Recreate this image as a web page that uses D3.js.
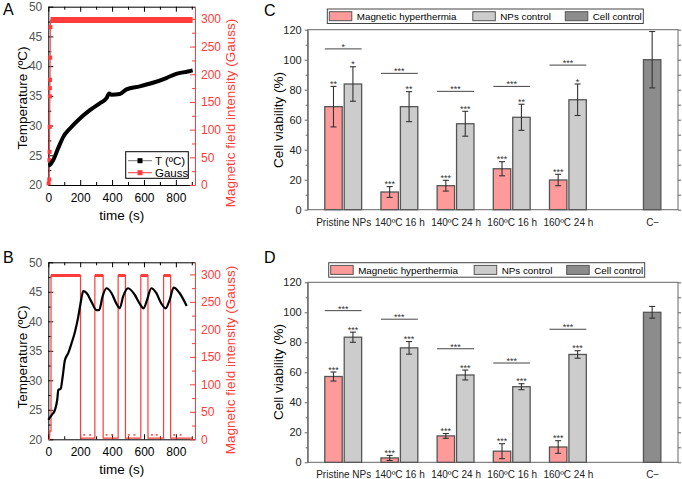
<!DOCTYPE html>
<html>
<head>
<meta charset="utf-8">
<script src="https://cdn.jsdelivr.net/npm/d3@7"></script>
<style>
body { margin: 0; background: #fff; }
text { font-family: "Liberation Sans", Arial, sans-serif; }
</style>
</head>
<body>
<div id="chart"></div>
<script>
// ---- panel A: field always on ----
var timeA = [0, 10, 31, 62, 94, 136, 198, 261, 323, 365, 382, 396, 448, 490, 573, 656, 740, 802, 875, 905];
var tempA = [23.3, 23.4, 24.2, 26.2, 28.1, 29.5, 31.2, 32.6, 33.75, 34.6, 35.4, 35.2, 35.3, 36.1, 36.6, 37.2, 38.0, 38.7, 39.1, 39.3];
var gaussRampTimeA = [2, 6, 7, 8, 9, 10, 10, 11, 12, 13];
var gaussRampA = [3, 10, 45, 60, 105, 160, 175, 190, 230, 285];
var gaussOnTimeA = [14, 905];
var gaussOnA = [298, 298];

// ---- panel B: field switched on/off ----
var timeB = [0, 21, 42, 56, 63, 77, 90, 104, 125, 146, 167, 188, 202, 219, 240, 271, 302, 319, 340, 365, 396, 427, 448, 469, 500, 542, 573, 598, 619, 646, 677, 709, 736, 761, 786, 823, 868];
var tempB = [23.3, 24.1, 25.0, 26.7, 28.4, 28.5, 30.6, 33.4, 34.6, 36.3, 38.2, 40.8, 43.0, 45.1, 44.8, 43.3, 41.9, 41.9, 44.2, 45.6, 44.8, 43.0, 42.2, 44.2, 45.6, 44.5, 43.0, 42.2, 43.6, 45.6, 44.8, 43.0, 42.2, 43.6, 45.7, 44.8, 42.6];
var fieldOnB = [17, 292, 438, 580, 723];
var fieldOffB = [202, 344, 484, 625, 767];
var blipTimeB = [225, 262, 365, 400, 505, 540, 650, 680, 790, 830];
var onLevelB = 298, offLevelB = 2, blipLevelB = 8;

// ---- panels C and D: cell viability ----
var categories = ["Pristine NPs", "140ºC 16 h", "140ºC 24 h", "160ºC 16 h", "160ºC 24 h"];
var seriesNames = ["Magnetic hyperthermia", "NPs control", "Cell control"];

var mhC = [68.7, 11.8, 16.0, 27.3, 19.8];
var mhErrC = [13.5, 3.6, 3.6, 4.7, 3.8];
var npC = [83.8, 68.7, 57.3, 61.6, 73.3];
var npErrC = [11.5, 10.0, 8.3, 8.7, 10.5];
var ctrlC = 100, ctrlErrC = 18.8;
var mhSigC = ["**", "***", "***", "***", "***"];
var npSigC = ["*", "**", "***", "**", "*"];
var bracketC = [107.2, 90.9, 78.9, 82.2, 96.4];
var bracketSigC = ["*", "***", "***", "***", "***"];

var mhD = [57.2, 2.9, 17.6, 7.4, 10.2];
var mhErrD = [3.0, 1.7, 1.6, 5.0, 4.2];
var npD = [83.4, 76.3, 58.2, 50.4, 71.9];
var npErrD = [3.4, 4.2, 3.3, 2.0, 2.5];
var ctrlD = 100, ctrlErrD = 3.9;
var mhSigD = ["***", "***", "***", "***", "***"];
var npSigD = ["***", "***", "***", "***", "***"];
var bracketD = [101.1, 95.4, 75.7, 66.2, 88.7];
var bracketSigD = ["***", "***", "***", "***", "***"];

var RED = "#ff3b3b";
var FONT = "Liberation Sans, Arial, sans-serif";

var svg = d3.select("#chart").append("svg")
    .attr("width", 682)
    .attr("height", 479);

function styleAxis(sel, color, size) {
    sel.attr("font-family", FONT).attr("font-size", size);
    sel.selectAll("path, line").attr("stroke", color);
    sel.selectAll("text").attr("fill", color);
}

function drawLinePanel(cfg) {
    var g = svg.append("g");
    var left = 48.3, right = 195;
    var x = d3.scaleLinear().domain([0, 920]).range([left, right]);
    var y = d3.scaleLinear().domain([20, 50]).range([cfg.bottom, cfg.top]);
    var y2 = d3.scaleLinear().domain([0, 322]).range([cfg.bottom, cfg.top]);

    // bottom / top
    g.append("g").attr("transform", "translate(0," + cfg.bottom + ")")
        .call(d3.axisBottom(x).tickValues([0, 200, 400, 600, 800]).tickSize(-5).tickSizeOuter(0).tickPadding(8))
        .call(styleAxis, "#000", 12);
    g.append("g").attr("transform", "translate(0," + cfg.bottom + ")")
        .call(d3.axisBottom(x).tickValues([100, 300, 500, 700, 900]).tickSize(-3).tickFormat(""))
        .call(styleAxis, "#000", 12).select(".domain").remove();
    g.append("g").attr("transform", "translate(0," + cfg.top + ")")
        .call(d3.axisTop(x).tickValues([0, 200, 400, 600, 800]).tickSize(-5).tickSizeOuter(0).tickFormat(""))
        .call(styleAxis, "#000", 12);
    g.append("g").attr("transform", "translate(0," + cfg.top + ")")
        .call(d3.axisTop(x).tickValues([100, 300, 500, 700, 900]).tickSize(-3).tickFormat(""))
        .call(styleAxis, "#000", 12).select(".domain").remove();

    // left temperature axis
    g.append("g").attr("transform", "translate(" + left + ",0)")
        .call(d3.axisLeft(y).tickValues(d3.range(20, 51, 5)).tickSize(-5).tickSizeOuter(0).tickPadding(6))
        .call(styleAxis, "#000", 12)
        .selectAll("text").attr("fill", "#555");
    g.append("g").attr("transform", "translate(" + left + ",0)")
        .call(d3.axisLeft(y).tickValues(d3.range(22.5, 50, 5)).tickSize(-3).tickFormat(""))
        .call(styleAxis, "#000", 12).select(".domain").remove();

    // right gauss axis
    g.append("g").attr("transform", "translate(" + right + ",0)")
        .call(d3.axisRight(y2).tickValues(d3.range(0, 301, 50)).tickSize(-5).tickSizeOuter(0).tickPadding(6))
        .call(styleAxis, RED, 12);
    g.append("g").attr("transform", "translate(" + right + ",0)")
        .call(d3.axisRight(y2).tickValues(d3.range(25, 320, 50)).tickSize(-3).tickFormat(""))
        .call(styleAxis, RED, 12).select(".domain").remove();

    // titles
    g.append("text")
        .attr("transform", "translate(" + 27 + "," + cfg.ytitle + ") rotate(-90)")
        .attr("text-anchor", "middle").attr("font-size", 13.5).attr("fill", "#000")
        .text("Temperature (ºC)");
    g.append("text")
        .attr("transform", "translate(" + 234.5 + "," + cfg.y2title + ") rotate(-90)")
        .attr("text-anchor", "middle").attr("font-size", 13.5).attr("fill", RED)
        .text("Magnetic field intensity (Gauss)");
    g.append("text")
        .attr("x", (left + right) / 2).attr("y", cfg.bottom + 35)
        .attr("text-anchor", "middle").attr("font-size", 13.5)
        .text("time (s)");
    g.append("text")
        .attr("x", 3).attr("y", cfg.top + cfg.letterDy)
        .attr("font-size", 16).text(cfg.letter);

    return { g: g, x: x, y: y, y2: y2 };
}

// ---------- panel A ----------
var pA = drawLinePanel({ top: 6.7, bottom: 185, ytitle: 98, y2title: 113, letter: "A", letterDy: 8.3 });

pA.g.append("path")
    .datum(d3.zip(gaussOnTimeA, gaussOnA))
    .attr("fill", "none").attr("stroke", RED).attr("stroke-width", 6)
    .attr("d", d3.line().x(function(d) { return pA.x(d[0]); }).y(function(d) { return pA.y2(d[1]); }));
pA.g.append("path")
    .datum(d3.zip([0].concat(gaussRampTimeA, [14]), [0].concat(gaussRampA, [298])))
    .attr("fill", "none").attr("stroke", RED).attr("stroke-width", 1)
    .attr("d", d3.line().x(function(d) { return pA.x(d[0]); }).y(function(d) { return pA.y2(d[1]); }));
pA.g.selectAll("rect.gauss")
    .data(d3.zip(gaussRampTimeA, gaussRampA))
    .enter().append("rect")
    .attr("x", function(d) { return pA.x(d[0]) - 2; })
    .attr("y", function(d) { return pA.y2(d[1]) - 2; })
    .attr("width", 4).attr("height", 4).attr("fill", RED);

pA.g.append("path")
    .datum(d3.zip(timeA, tempA))
    .attr("fill", "none").attr("stroke", "#000").attr("stroke-width", 4)
    .attr("d", d3.line().curve(d3.curveMonotoneX)
        .x(function(d) { return pA.x(d[0]); }).y(function(d) { return pA.y(d[1]); }));

// legend A
var lgA = pA.g.append("g");
lgA.append("rect").attr("x", 125.7).attr("y", 151.7).attr("width", 62.6).attr("height", 26.6)
    .attr("fill", "#fff").attr("stroke", "#000").attr("stroke-width", 1);
[["T (ºC)", "#000", "#777", 160.7], ["Gauss", RED, RED, 172.7]].forEach(function(e) {
    lgA.append("line").attr("x1", 128).attr("x2", 152).attr("y1", e[3]).attr("y2", e[3])
        .attr("stroke", e[2]).attr("stroke-width", 1);
    lgA.append("rect").attr("x", 137.5).attr("y", e[3] - 2.5).attr("width", 5).attr("height", 5).attr("fill", e[1]);
    lgA.append("text").attr("x", 155).attr("y", e[3] + 4).attr("font-size", 11.5).text(e[0]);
});

// ---------- panel B ----------
var pB = drawLinePanel({ top: 262.3, bottom: 439.3, ytitle: 357, y2title: 360, letter: "B", letterDy: 1 });

var sq = [[0, 0], [8, 0], [10, 15], [fieldOnB[0], 15]];
fieldOnB.forEach(function(on, i) {
    if (i > 0) sq.push([on, offLevelB]);
    sq.push([on, onLevelB]);
    sq.push([fieldOffB[i], onLevelB]);
    sq.push([fieldOffB[i], offLevelB]);
});
sq.push([905, offLevelB]);
pB.g.append("path")
    .datum(sq)
    .attr("fill", "none").attr("stroke", RED).attr("stroke-width", 1.2)
    .attr("d", d3.line().x(function(d) { return pB.x(d[0]); }).y(function(d) { return pB.y2(d[1]); }));
pB.g.selectAll("line.on")
    .data(fieldOnB)
    .enter().append("line")
    .attr("x1", function(d) { return pB.x(d); })
    .attr("x2", function(d, i) { return pB.x(fieldOffB[i]); })
    .attr("y1", pB.y2(onLevelB)).attr("y2", pB.y2(onLevelB))
    .attr("stroke", RED).attr("stroke-width", 3);
pB.g.selectAll("line.blip")
    .data(blipTimeB)
    .enter().append("line")
    .attr("x1", function(d) { return pB.x(d - 6); })
    .attr("x2", function(d) { return pB.x(d + 6); })
    .attr("y1", pB.y2(blipLevelB)).attr("y2", pB.y2(blipLevelB))
    .attr("stroke", RED).attr("stroke-width", 1.5);

pB.g.append("path")
    .datum(d3.zip(timeB, tempB))
    .attr("fill", "none").attr("stroke", "#000").attr("stroke-width", 2.2)
    .attr("d", d3.line().curve(d3.curveMonotoneX)
        .x(function(d) { return pB.x(d[0]); }).y(function(d) { return pB.y(d[1]); }));

// ---------- bar panels ----------
var barColors = ["#ff9a9a", "#cccccc", "#8c8c8c"];

function drawBarPanel(cfg) {
    var g = svg.append("g");
    var left = 307.7, right = 678;
    var x = d3.scaleLinear().domain([-0.632, 5.96]).range([left, right]);
    var y = d3.scaleLinear().domain([0, 120]).range([cfg.bottom, cfg.top]);
    var step = x(1) - x(0), bw = step * 0.31, gap = step * 0.036;

    // frame + ticks
    g.append("rect").attr("x", left).attr("y", cfg.top).attr("width", right - left)
        .attr("height", cfg.bottom - cfg.top).attr("fill", "none").attr("stroke", "#666").attr("stroke-width", 1);
    g.append("g").attr("transform", "translate(" + left + ",0)")
        .call(d3.axisLeft(y).tickValues(d3.range(0, 121, 20)).tickSize(3).tickSizeOuter(0).tickPadding(3))
        .call(styleAxis, "#666", 11)
        .selectAll("text").attr("fill", "#222");
    g.append("g").attr("transform", "translate(" + left + ",0)")
        .call(d3.axisLeft(y).tickValues(d3.range(10, 120, 20)).tickSize(2).tickFormat(""))
        .call(styleAxis, "#666", 11).select(".domain").remove();
    g.append("g").attr("transform", "translate(" + right + ",0)")
        .call(d3.axisRight(y).tickValues(d3.range(0, 121, 10)).tickSize(3).tickSizeOuter(0).tickFormat(""))
        .call(styleAxis, "#666", 11).select(".domain").remove();

    g.append("g").attr("transform", "translate(0," + cfg.bottom + ")")
        .call(d3.axisBottom(x).tickValues([0, 1, 2, 3, 4, 5.5]).tickSize(0).tickPadding(9)
            .tickFormat(function(d, i) { return i < 5 ? categories[i] : "C\u2212"; }))
        .call(styleAxis, "#222", 10)
        .select(".domain").remove();

    g.append("text")
        .attr("transform", "translate(" + 282.5 + "," + cfg.ytitle + ") rotate(-90)")
        .attr("text-anchor", "middle").attr("font-size", 13.5)
        .text("Cell viability (%)");
    g.append("text").attr("x", 264).attr("y", cfg.letterY).attr("font-size", 16).text(cfg.letter);

    // bars
    var bars = [];
    categories.forEach(function(c, i) {
        bars.push({ x0: x(i) - gap / 2 - bw, v: cfg.mh[i], e: cfg.mhErr[i], s: cfg.mhSig[i], c: 0 });
        bars.push({ x0: x(i) + gap / 2, v: cfg.np[i], e: cfg.npErr[i], s: cfg.npSig[i], c: 1 });
    });
    bars.push({ x0: x(5.5) - bw / 2, v: cfg.ctrl, e: cfg.ctrlErr, s: "", c: 2 });

    g.selectAll("rect.bar").data(bars).enter().append("rect")
        .attr("x", function(d) { return d.x0; })
        .attr("y", function(d) { return y(d.v); })
        .attr("width", bw)
        .attr("height", function(d) { return y(0) - y(d.v); })
        .attr("fill", function(d) { return barColors[d.c]; })
        .attr("stroke", "#555").attr("stroke-width", 1.3);

    var eb = g.selectAll("g.err").data(bars).enter().append("g").attr("stroke", "#333").attr("stroke-width", 1.1);
    eb.append("line")
        .attr("x1", function(d) { return d.x0 + bw / 2; }).attr("x2", function(d) { return d.x0 + bw / 2; })
        .attr("y1", function(d) { return y(d.v - d.e); }).attr("y2", function(d) { return y(d.v + d.e); });
    eb.append("line")
        .attr("x1", function(d) { return d.x0 + bw / 2 - 3; }).attr("x2", function(d) { return d.x0 + bw / 2 + 3; })
        .attr("y1", function(d) { return y(d.v + d.e); }).attr("y2", function(d) { return y(d.v + d.e); });
    eb.append("line")
        .attr("x1", function(d) { return d.x0 + bw / 2 - 3; }).attr("x2", function(d) { return d.x0 + bw / 2 + 3; })
        .attr("y1", function(d) { return y(d.v - d.e); }).attr("y2", function(d) { return y(d.v - d.e); });

    g.selectAll("text.sig").data(bars).enter().append("text")
        .attr("x", function(d) { return d.x0 + bw / 2; })
        .attr("y", function(d) { return y(d.v + d.e) + 0.5; })
        .attr("text-anchor", "middle").attr("font-size", 9).attr("fill", "#333")
        .text(function(d) { return d.s; });

    // brackets between treatment and NP control
    var br = g.selectAll("g.br").data(categories).enter().append("g");
    br.append("line")
        .attr("x1", function(d, i) { return x(i) - gap / 2 - bw; })
        .attr("x2", function(d, i) { return x(i) + gap / 2 + bw; })
        .attr("y1", function(d, i) { return y(cfg.bracket[i]); })
        .attr("y2", function(d, i) { return y(cfg.bracket[i]); })
        .attr("stroke", "#444").attr("stroke-width", 1);
    br.append("text")
        .attr("x", function(d, i) { return x(i); })
        .attr("y", function(d, i) { return y(cfg.bracket[i]) + 1; })
        .attr("text-anchor", "middle").attr("font-size", 9).attr("fill", "#333")
        .text(function(d, i) { return cfg.bracketSig[i]; });

    // legend
    var lg = g.append("g");
    lg.append("rect").attr("x", cfg.legX).attr("y", cfg.legY).attr("width", 316).attr("height", 14.5)
        .attr("fill", "#fff").attr("stroke", "#444").attr("stroke-width", 1);
    var swX = [2, 145.5, 238];
    seriesNames.forEach(function(n, i) {
        lg.append("rect").attr("x", cfg.legX + swX[i]).attr("y", cfg.legY + 2.7)
            .attr("width", 22.5).attr("height", 9).attr("fill", barColors[i])
            .attr("stroke", "#555").attr("stroke-width", 1);
        lg.append("text").attr("x", cfg.legX + swX[i] + 27.5).attr("y", cfg.legY + 11)
            .attr("font-size", 9.8).text(n);
    });
}

drawBarPanel({ top: 29.7, bottom: 209.7, ytitle: 120, letter: "C", letterY: 16,
    mh: mhC, mhErr: mhErrC, np: npC, npErr: npErrC, ctrl: ctrlC, ctrlErr: ctrlErrC,
    mhSig: mhSigC, npSig: npSigC, bracket: bracketC, bracketSig: bracketSigC,
    legX: 327.3, legY: 9 });
drawBarPanel({ top: 282.3, bottom: 462.3, ytitle: 372, letter: "D", letterY: 263,
    mh: mhD, mhErr: mhErrD, np: npD, npErr: npErrD, ctrl: ctrlD, ctrlErr: ctrlErrD,
    mhSig: mhSigD, npSig: npSigD, bracket: bracketD, bracketSig: bracketSigD,
    legX: 328.7, legY: 262.7 });
</script>
</body>
</html>
